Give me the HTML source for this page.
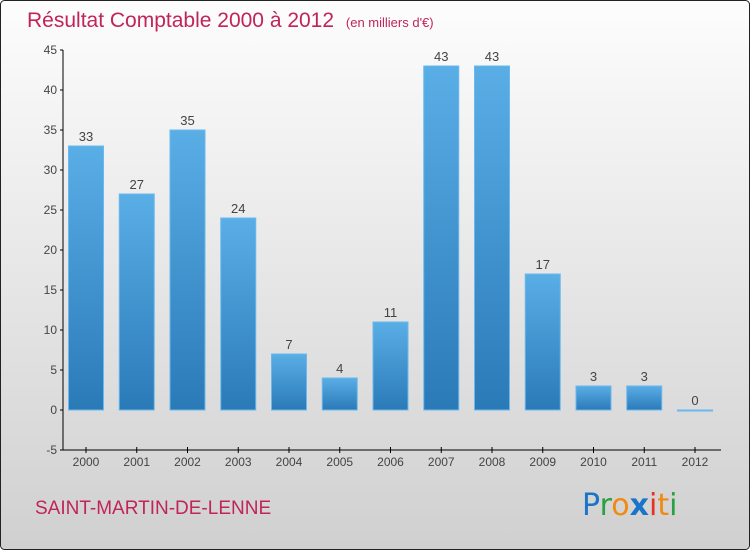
<!DOCTYPE html>
<html><head><meta charset="utf-8"><style>
body{margin:0;width:750px;height:550px;overflow:hidden;font-family:"Liberation Sans",sans-serif}
svg{display:block}
</style></head><body>
<svg id="c" width="750" height="550" xmlns="http://www.w3.org/2000/svg">
<defs>
<linearGradient id="bg" x1="0" y1="0" x2="0" y2="1"><stop offset="0" stop-color="#fdfdfd"/><stop offset="1" stop-color="#d0d0d0"/></linearGradient>
<linearGradient id="bar" x1="0" y1="0" x2="0" y2="1"><stop offset="0" stop-color="#5aaee6"/><stop offset="1" stop-color="#2a7ab8"/></linearGradient>
</defs>
<rect x="0.5" y="0.5" width="749" height="549" rx="4" fill="url(#bg)" stroke="#222"/>
<text x="27" y="27" font-size="21" fill="#c0245a">Résultat Comptable 2000 à 2012 <tspan font-size="13" dx="6">(en milliers d'€)</tspan></text>
<text x="35" y="514" font-size="19" fill="#c0245a">SAINT-MARTIN-DE-LENNE</text>
<g font-size="30" font-family="'DejaVu Sans',sans-serif">
<text x="582" y="515" fill="#1a75c9">P<tspan fill="#2aa040">r</tspan><tspan fill="#f08a10">o</tspan><tspan fill="#1a75c9" font-weight="bold">x</tspan><tspan fill="#e83020">i</tspan><tspan fill="#f08a10">t</tspan><tspan fill="#2aa040">i</tspan></text>
</g>
<g id="axes"></g>
<g id="bars"></g>
</svg>
<script>
const categories=["2000","2001","2002","2003","2004","2005","2006","2007","2008","2009","2010","2011","2012"];
const values=[33,27,35,24,7,4,11,43,43,17,3,3,0];
const yTicks=[-5,0,5,10,15,20,25,30,35,40,45];
const NS="http://www.w3.org/2000/svg";
const y=v=>410-v*8;
const x=i=>86+i*50.75;
const axes=document.getElementById('axes'),bars=document.getElementById('bars');
function mk(tag,at,p){const e=document.createElementNS(NS,tag);for(const k in at)e.setAttribute(k,at[k]);p.appendChild(e);return e;}
let l=mk('line',{x1:63,y1:y(45),x2:63,y2:y(-5),stroke:'#000'},axes);


l=mk('line',{x1:63,y1:y(-5),x2:721,y2:y(-5),stroke:'#000'},axes);


yTicks.forEach(t=>{
 mk('line',{x1:60,y1:y(t),x2:63,y2:y(t),stroke:'#000'},axes);
 const tx=mk('text',{x:57,y:y(t)+4,'font-size':12,fill:'#444','text-anchor':'end'},axes);
 tx.textContent=t;
 
 
});
categories.forEach((c,i)=>{
 mk('line',{x1:x(i),y1:y(-5)-3,x2:x(i),y2:y(-5)+3,stroke:'#000'},axes);
 const tx=mk('text',{x:x(i),y:y(-5)+16,'font-size':12,fill:'#444','text-anchor':'middle'},axes);
 tx.textContent=c;
 
 
 const v=values[i];
 const h=Math.max(Math.abs(y(v)-y(0)),1);
 const r=mk('rect',{x:x(i)-17.5,y:Math.min(y(v),y(0)),width:35,height:h,fill:'url(#bar)',stroke:'#6bb8ee','stroke-width':1},bars);
 
 
 const lb=mk('text',{x:x(i),y:y(Math.max(v,0))-5,'font-size':13,fill:'#444','text-anchor':'middle'},bars);
 lb.textContent=v;
 
 
});
</script>
</body></html>
